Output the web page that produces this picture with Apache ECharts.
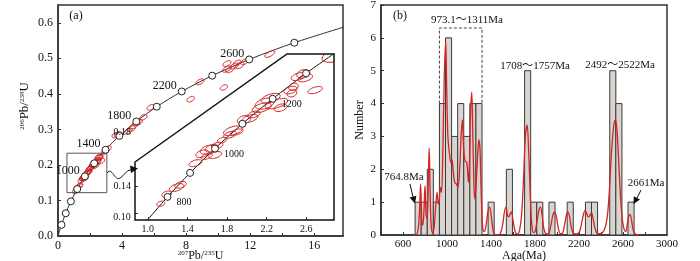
<!DOCTYPE html>
<html>
<head>
<meta charset="utf-8">
<title>Zircon U-Pb concordia and age histogram</title>
<script src="https://cdn.jsdelivr.net/npm/echarts@6.0.0/dist/echarts.min.js"></script>
<style>
    html, body { margin: 0; padding: 0; background: #fff; }
    #chart { width: 700px; height: 261px; }
</style>
</head>
<body>
<div id="chart"></div>
<script>
    // ---------- (a) concordia curve, ages every 200 Ma
    var concAge = [0, 200, 400, 600, 800, 1000, 1200, 1400, 1600, 1800, 2000, 2200, 2400, 2600, 2800, 3000];
    var concX = [0, 0.2177, 0.4828, 0.8056, 1.1987, 1.6774, 2.2603, 2.9701, 3.8345, 4.8869, 6.1685, 7.7291, 9.6296, 11.9437, 14.7618, 18.1931];
    var concY = [0, 0.0315, 0.0640, 0.0975, 0.1321, 0.1678, 0.2046, 0.2426, 0.2817, 0.3221, 0.3638, 0.4067, 0.4511, 0.4968, 0.5439, 0.5926];
    var concLabelAges = [1000, 1400, 1800, 2200, 2600];

    // inset concordia, ages every 100 Ma
    var insetAge = [700, 800, 900, 1000, 1100, 1200, 1300, 1400];
    var insetX = [0.9925, 1.1987, 1.4263, 1.6774, 1.9545, 2.2603, 2.5977, 2.9701];
    var insetY = [0.1147, 0.1321, 0.1498, 0.1678, 0.1861, 0.2046, 0.2234, 0.2426];
    var insetLabelAges = [800, 1000, 1200];

    // error ellipses: 207Pb/235U, 206Pb/238U, half length (x units), half width (y units)
    var ellipses = [
        [1.13, 0.127, 0.042, 0.0018], [1.19, 0.134, 0.05, 0.0022], [1.29, 0.139, 0.076, 0.0025],
        [1.33, 0.141, 0.06, 0.0022], [1.48, 0.157, 0.068, 0.0022], [1.55, 0.164, 0.068, 0.0025],
        [1.61, 0.167, 0.084, 0.003], [1.645, 0.168, 0.068, 0.0025], [1.68, 0.163, 0.068, 0.0022],
        [1.594, 0.162, 0.06, 0.0019], [1.70, 0.170, 0.06, 0.0022], [1.75, 0.174, 0.05, 0.0019],
        [1.83, 0.178, 0.068, 0.0022], [1.86, 0.181, 0.1, 0.003], [1.898, 0.180, 0.068, 0.0019],
        [1.97, 0.189, 0.068, 0.003], [2.03, 0.190, 0.084, 0.0025], [2.07, 0.193, 0.068, 0.0022],
        [2.15, 0.198, 0.1, 0.003], [2.18, 0.201, 0.1, 0.0037], [2.24, 0.205, 0.1, 0.003],
        [2.30, 0.201, 0.118, 0.003], [2.34, 0.198, 0.068, 0.0025], [2.44, 0.211, 0.068, 0.0025],
        [2.47, 0.2135, 0.05, 0.0025], [2.455, 0.2086, 0.05, 0.0025], [2.52, 0.221, 0.076, 0.0025],
        [2.57, 0.223, 0.068, 0.003], [2.59, 0.220, 0.076, 0.0025], [2.69, 0.211, 0.076, 0.0022],
        [2.95, 0.238, 0.2, 0.005], [3.1, 0.246, 0.2, 0.005],
        [3.6, 0.284, 0.2, 0.005], [3.75, 0.286, 0.18, 0.005],
        [4.4, 0.295, 0.2, 0.005], [4.6, 0.302, 0.2, 0.005], [4.75, 0.31, 0.2, 0.005],
        [4.9, 0.318, 0.2, 0.005], [5.05, 0.32, 0.2, 0.005],
        [5.33, 0.334, 0.2, 0.005], [5.79, 0.362, 0.25, 0.006], [8.29, 0.385, 0.26, 0.006],
        [8.87, 0.434, 0.28, 0.006], [10.36, 0.418, 0.23, 0.005], [10.55, 0.485, 0.28, 0.006],
        [10.55, 0.470, 0.32, 0.006], [11.0, 0.478, 0.3, 0.006], [11.2, 0.487, 0.26, 0.006],
        [11.35, 0.480, 0.3, 0.007], [11.65, 0.490, 0.26, 0.006], [10.75, 0.468, 0.3, 0.005],
        [13.23, 0.512, 0.35, 0.006]
    ];

    // ---------- (b) histogram bins
    var binStart = 710;
    var binWidth = 55.3;
    var binCounts = [1, 1, 2, 1, 4, 6, 3, 4, 3, 4, 4, 0, 1, 0, 0, 2, 0, 0, 5, 1,
                     1, 0, 1, 0, 0, 1, 0, 0, 1, 1, 0, 0, 5, 4, 0, 1];
    var boxBins = [4, 11];
    var boxTop = 6.3;

    // probability curve
    var pdfAge = [700, 730, 748, 760, 772, 780, 790, 800, 810, 820, 830, 838, 847, 858, 871, 885, 898, 910, 920, 928,
                  940, 950, 962, 975, 988, 997, 1008, 1025, 1035, 1045, 1055, 1070, 1085, 1100, 1115, 1128, 1140, 1152, 1165, 1180,
                  1195, 1205, 1215, 1225, 1235, 1245, 1252, 1262, 1275, 1290, 1300, 1312, 1325, 1340, 1355, 1372, 1388, 1405, 1425, 1450,
                  1480, 1505, 1522, 1537, 1550, 1561, 1575, 1586, 1600, 1620, 1640, 1660, 1680, 1698, 1712, 1728, 1742, 1757, 1770, 1785,
                  1800, 1818, 1835, 1850, 1865, 1880, 1896, 1920, 1945, 1962, 1978, 1995, 2012, 2032, 2050, 2068, 2085, 2099, 2115, 2132,
                  2154, 2185, 2210, 2232, 2255, 2270, 2285, 2300, 2313, 2330, 2350, 2370, 2400, 2430, 2455, 2475, 2495, 2515, 2530, 2545,
                  2560, 2575, 2590, 2605, 2625, 2640, 2655, 2665, 2680, 2695, 2715, 2740];
    var pdfVal = [0, 0.05, 0.6, 1.55, 0.35, 0.3, 0.7, 1.5, 0.6, 0.5, 1.6, 2.65, 1.2, 0.2, 0.05, 0.3, 0.9, 1.3, 0.95, 1.0,
                  1.45, 1.3, 2.5, 4.8, 5.9, 4.5, 3.0, 2.4, 2.2, 2.3, 2.0, 1.6, 1.55, 1.45, 2.0, 3.0, 3.5, 2.6, 2.25, 2.2,
                  1.6, 2.3, 3.8, 4.35, 3.0, 1.5, 1.1, 1.4, 2.2, 2.9, 2.6, 1.2, 0.2, 0.1, 0.3, 0.7, 0.85, 0.5, 0.05, 0,
                  0.02, 0.3, 0.7, 0.85, 0.6, 0.55, 0.65, 0.7, 0.45, 0.1, 0.03, 0.15, 0.7, 1.9, 3.0, 3.35, 2.6, 1.2, 0.35, 0.08,
                  0.1, 0.4, 0.75, 0.85, 0.6, 0.2, 0.05, 0.03, 0.3, 0.6, 0.7, 0.55, 0.2, 0.04, 0.05, 0.3, 0.6, 0.7, 0.55, 0.2,
                  0.04, 0.03, 0.15, 0.5, 0.75, 0.65, 0.55, 0.6, 0.68, 0.45, 0.15, 0.04, 0.05, 0.15, 0.5, 1.3, 2.5, 3.3, 3.5, 3.2,
                  2.3, 1.3, 0.6, 0.25, 0.1, 0.35, 0.6, 0.62, 0.4, 0.12, 0.02, 0];

    var SERIF = '"Liberation Serif", "Times New Roman", "Noto Sans CJK SC", serif';
    var RED = '#d42424';
    var INK = '#333';

    // pixel layout of the three plotting areas
    var gA = { left: 58, top: 5, right: 343, bottom: 236 };
    var gB = { left: 381, top: 5, right: 667, bottom: 235 };
    var gI = { left: 135, top: 54, right: 334, bottom: 220 };
    var insetCut = [135, 162, 287, 54];

    function toGrid(g) {
        return { left: g.left, top: g.top, width: g.right - g.left, height: g.bottom - g.top, outerBoundsMode: 'none', containLabel: false };
    }

    function zip(a, b) {
        var out = [];
        for (var i = 0; i < a.length; i++) out.push([a[i], b[i]]);
        return out;
    }

    function markerData(ages, xs, ys, labelAges) {
        var out = [];
        for (var i = 0; i < ages.length; i++) {
            out.push({
                value: [xs[i], ys[i], ages[i]],
                label: { show: labelAges.indexOf(ages[i]) >= 0 }
            });
        }
        return out;
    }

    // outline of a tilted ellipse as a polygon, in pixels
    function ellipseRenderer(minRx, minRy, tilt) {
        return function (params, api) {
            var c = api.coord([api.value(0), api.value(1)]);
            var s = api.size([api.value(2), api.value(3)]);
            var rx = Math.max(s[0], minRx), ry = Math.max(s[1], minRy);
            var ct = Math.cos(tilt), st = Math.sin(tilt);
            var pts = [];
            for (var k = 0; k < 32; k++) {
                var t = k / 32 * Math.PI * 2;
                var ex = rx * Math.cos(t), ey = ry * Math.sin(t);
                pts.push([c[0] + ex * ct - ey * st, c[1] - (ex * st + ey * ct)]);
            }
            return {
                type: 'polygon',
                shape: { points: pts },
                style: { fill: 'none', stroke: RED, lineWidth: 1 }
            };
        };
    }

    var bars = [];
    for (var i = 0; i < binCounts.length; i++) {
        if (binCounts[i] > 0) {
            bars.push([binStart + i * binWidth, binStart + (i + 1) * binWidth, binCounts[i]]);
        }
    }
    var boxL = binStart + boxBins[0] * binWidth;
    var boxR = binStart + boxBins[1] * binWidth;

    var chart = echarts.init(document.getElementById('chart'));

    var axisLine = { show: true, lineStyle: { color: INK, width: 1.5 } };
    var tickIn = { show: true, inside: true, length: 3, lineStyle: { color: INK, width: 1 } };
    var insetOutline = [[insetCut[0], insetCut[1]], [insetCut[2], insetCut[3]], [gI.right, gI.top], [gI.right, gI.bottom], [gI.left, gI.bottom]];

    function label(x, y, text, size) {
        return { type: 'text', z: 60, x: x, y: y, style: { text: text, font: size + 'px ' + SERIF, fill: '#111', align: 'center', verticalAlign: 'middle' } };
    }

    var option = {
        animation: false,
        textStyle: { fontFamily: SERIF },
        grid: [
            Object.assign(toGrid(gA), { show: true, borderColor: INK, borderWidth: 1.5, backgroundColor: '#fff' }),
            Object.assign(toGrid(gB), { show: true, borderColor: INK, borderWidth: 1.5, backgroundColor: '#fff' }),
            toGrid(gI)
        ],
        xAxis: [
            {
                gridIndex: 0, type: 'value', min: 0, max: 17.8,
                axisLine: axisLine, splitLine: { show: false },
                axisTick: Object.assign({ customValues: [0, 2, 4, 6, 8, 10, 12, 14, 16] }, tickIn),
                axisLabel: { customValues: [0, 4, 8, 12, 16], color: '#111', fontSize: 12, margin: 4, fontFamily: SERIF },
                name: '{s|207}Pb/{s|235}U', nameLocation: 'middle', nameGap: 14, nameMoveOverlap: false,
                nameTextStyle: {
                    color: '#111', fontSize: 12, fontFamily: SERIF, verticalAlign: 'top',
                    rich: { s: { fontSize: 7, verticalAlign: 'top', fontFamily: SERIF, color: '#111' } }
                }
            },
            {
                gridIndex: 1, type: 'value', min: 400, max: 3000,
                axisLine: axisLine, splitLine: { show: false },
                axisTick: Object.assign({ customValues: [400, 600, 800, 1000, 1200, 1400, 1600, 1800, 2000, 2200, 2400, 2600, 2800] }, tickIn),
                axisLabel: {
                    customValues: [600, 1000, 1400, 1800, 2200, 2600, 3000], color: '#111', fontSize: 11, margin: 4, fontFamily: SERIF,
                    formatter: function (v) { return String(v); }
                },
                name: 'Aga(Ma)', nameLocation: 'middle', nameGap: 15, nameMoveOverlap: false,
                nameTextStyle: { color: '#111', fontSize: 12, fontFamily: SERIF, verticalAlign: 'top' }
            },
            {
                gridIndex: 2, type: 'value', min: 0.87, max: 2.88,
                axisLine: { show: false }, splitLine: { show: false },
                axisTick: Object.assign({ customValues: [1.0, 1.4, 1.8, 2.2, 2.6] }, tickIn),
                axisLabel: {
                    customValues: [1.0, 1.4, 1.8, 2.2, 2.6], color: '#111', fontSize: 10, margin: 4, fontFamily: SERIF,
                    formatter: function (v) { return v.toFixed(1); }
                },
                z: 40
            }
        ],
        yAxis: [
            {
                gridIndex: 0, type: 'value', min: 0, max: 0.65,
                axisLine: axisLine, splitLine: { show: false },
                axisTick: Object.assign({ customValues: [0, 0.1, 0.2, 0.3, 0.4, 0.5, 0.6] }, tickIn),
                axisLabel: {
                    customValues: [0, 0.1, 0.2, 0.3, 0.4, 0.5, 0.6], color: '#111', fontSize: 12, margin: 5, fontFamily: SERIF,
                    formatter: function (v) { return v.toFixed(1); }
                }
            },
            {
                gridIndex: 1, type: 'value', min: 0, max: 7, interval: 1,
                axisLine: axisLine, splitLine: { show: false }, axisTick: tickIn,
                axisLabel: { color: '#111', fontSize: 11, margin: 5, fontFamily: SERIF },
                name: 'Number', nameLocation: 'middle', nameGap: 15, nameRotate: 90, nameMoveOverlap: false,
                nameTextStyle: { color: '#111', fontSize: 12, fontFamily: SERIF }
            },
            {
                gridIndex: 2, type: 'value', min: 0.115, max: 0.2377,
                axisLine: { show: false }, splitLine: { show: false },
                axisTick: Object.assign({ customValues: [0.12, 0.14] }, tickIn),
                axisLabel: {
                    customValues: [0.14, 0.18], color: '#111', fontSize: 10, margin: 4, fontFamily: SERIF,
                    formatter: function (v) { return v.toFixed(2); }
                },
                z: 40
            }
        ],
        graphic: [
            // white inset panel covering the main plot
            { type: 'polygon', z: 20, shape: { points: insetOutline }, style: { fill: '#fff', stroke: 'none' } },
            { type: 'polygon', z: 60, shape: { points: insetOutline }, style: { fill: 'none', stroke: '#111', lineWidth: 1.5 } },
            // squiggly pointer from the box to the inset
            {
                type: 'bezierCurve', z: 60,
                shape: { x1: 107, y1: 173, x2: 120, y2: 178, cpx1: 112, cpy1: 166, cpx2: 115, cpy2: 182 },
                style: { fill: 'none', stroke: '#111', lineWidth: 1 }
            },
            {
                type: 'bezierCurve', z: 60,
                shape: { x1: 120, y1: 178, x2: 131, y2: 170, cpx1: 125, cpy1: 175, cpx2: 126, cpy2: 170 },
                style: { fill: 'none', stroke: '#111', lineWidth: 1 }
            },
            { type: 'polygon', z: 60, shape: { points: [[138, 168.5], [130, 165.5], [131, 173]] }, style: { fill: '#111' } },
            label(76, 16, '(a)', 12),
            label(122, 217, '0.10', 10),
            {
                type: 'text', z: 60, x: 25, y: 106, rotation: Math.PI / 2,
                style: {
                    text: '{s|206}Pb/{s|238}U', font: '13px ' + SERIF, fill: '#111', align: 'center', verticalAlign: 'middle',
                    rich: { s: { fontSize: 7, verticalAlign: 'top', fontFamily: SERIF, fill: '#111' } }
                }
            },
            // (b) annotations
            label(400, 16, '(b)', 12),
            label(467, 20.5, '973.1～1311Ma', 11),
            label(535, 66, '1708～1757Ma', 11),
            label(620, 65, '2492～2522Ma', 11),
            label(404, 177.5, '764.8Ma', 11),
            { type: 'line', z: 60, shape: { x1: 410, y1: 184, x2: 413, y2: 197 }, style: { stroke: '#111', lineWidth: 1 } },
            { type: 'polygon', z: 60, shape: { points: [[415, 203.5], [416.4, 195.8], [409.6, 197.6]] }, style: { fill: '#111' } },
            label(646, 183, '2661Ma', 11),
            { type: 'line', z: 60, shape: { x1: 641, y1: 190, x2: 637, y2: 198 }, style: { stroke: '#111', lineWidth: 1 } },
            { type: 'polygon', z: 60, shape: { points: [[633.5, 204], [640, 199.6], [633.8, 196.2]] }, style: { fill: '#111' } }
        ],
        series: [
            // ---- (a) main concordia
            {
                type: 'line', xAxisIndex: 0, yAxisIndex: 0, data: zip(concX, concY),
                smooth: 0.3, symbol: 'none', lineStyle: { color: INK, width: 1 }, z: 2
            },
            {
                type: 'custom', xAxisIndex: 0, yAxisIndex: 0, clip: true, z: 3,
                renderItem: ellipseRenderer(4, 2.3, 0.5), data: ellipses
            },
            {
                type: 'scatter', xAxisIndex: 0, yAxisIndex: 0, z: 4,
                data: markerData(concAge.slice(1, -1), concX.slice(1, -1), concY.slice(1, -1), concLabelAges),
                symbol: 'circle', symbolSize: 7,
                itemStyle: { color: '#fff', borderColor: '#222', borderWidth: 1, opacity: 1 },
                label: {
                    position: 'left', distance: 1, offset: [0, -6], fontSize: 12, color: '#111', fontFamily: SERIF,
                    formatter: function (p) { return p.value[2]; }
                }
            },
            {
                // box marking the enlarged area
                type: 'line', xAxisIndex: 0, yAxisIndex: 0, z: 4, symbol: 'none',
                data: [[0.56, 0.122], [0.56, 0.233], [3.05, 0.233], [3.05, 0.122], [0.56, 0.122]],
                lineStyle: { color: '#555', width: 1 }
            },
            // ---- inset
            {
                type: 'line', xAxisIndex: 2, yAxisIndex: 2, data: zip(insetX, insetY),
                smooth: 0.3, symbol: 'none', lineStyle: { color: '#111', width: 1 }, z: 30
            },
            {
                type: 'custom', xAxisIndex: 2, yAxisIndex: 2, clip: true, z: 31,
                renderItem: ellipseRenderer(2, 1.5, 0.3), data: ellipses
            },
            {
                type: 'scatter', xAxisIndex: 2, yAxisIndex: 2, z: 32,
                data: markerData(insetAge.slice(1, -1), insetX.slice(1, -1), insetY.slice(1, -1), insetLabelAges),
                symbol: 'circle', symbolSize: 7,
                itemStyle: { color: '#fff', borderColor: '#222', borderWidth: 1, opacity: 1 },
                label: {
                    position: 'right', distance: 5, offset: [0, 6], fontSize: 10, color: '#111', fontFamily: SERIF,
                    formatter: function (p) { return p.value[2]; }
                }
            },
            // ---- (b) histogram
            {
                type: 'custom', xAxisIndex: 1, yAxisIndex: 1, z: 3, data: bars,
                renderItem: function (params, api) {
                    var p0 = api.coord([api.value(0), 0]);
                    var p1 = api.coord([api.value(1), api.value(2)]);
                    return {
                        type: 'rect',
                        shape: { x: p0[0], y: p1[1], width: p1[0] - p0[0], height: p0[1] - p1[1] },
                        style: { fill: '#d9d4cf', stroke: '#3a3a3a', lineWidth: 1 }
                    };
                }
            },
            {
                type: 'line', xAxisIndex: 1, yAxisIndex: 1, z: 4, symbol: 'none',
                data: [[boxL, 4], [boxL, boxTop], [boxR, boxTop], [boxR, 4]],
                lineStyle: { color: '#444', width: 1, type: [3, 2] }
            },
            {
                type: 'line', xAxisIndex: 1, yAxisIndex: 1, z: 5, symbol: 'none',
                data: zip(pdfAge, pdfVal), smooth: 0.35,
                lineStyle: { color: RED, width: 1.3 }
            }
        ]
    };

    chart.setOption(option);
</script>
</body>
</html>
